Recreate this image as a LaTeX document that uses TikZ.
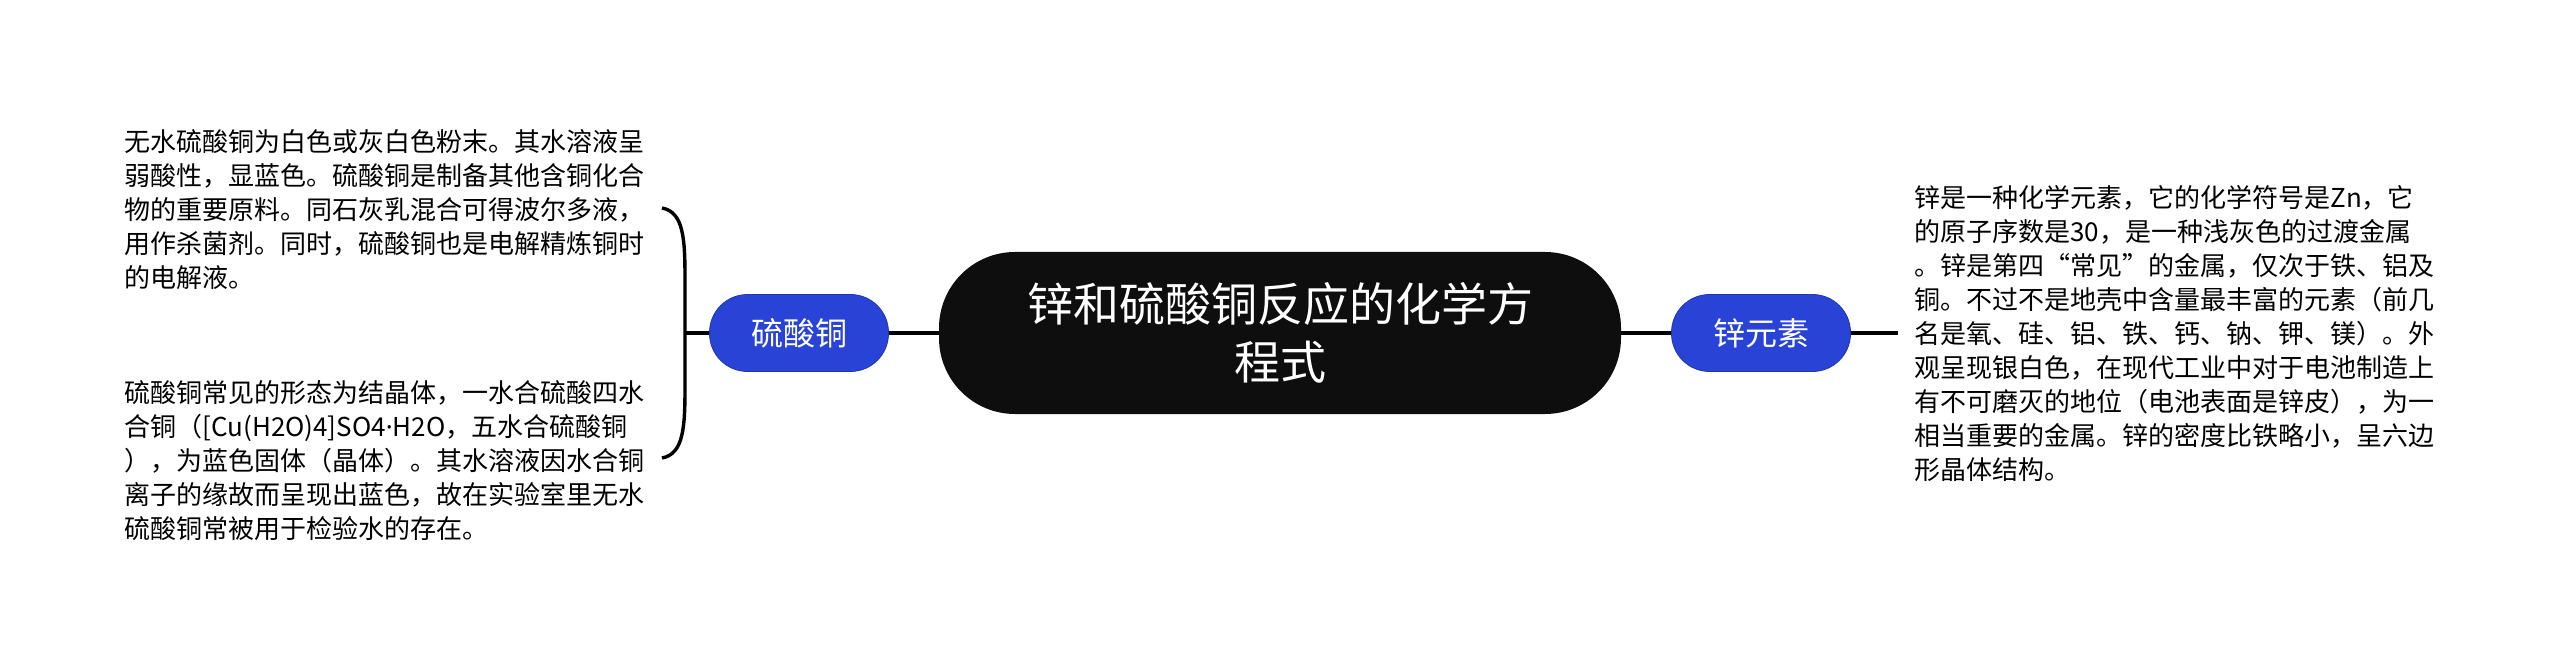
\documentclass[tikz,border=0pt]{standalone}
\usepackage{fontspec}
\setmainfont{Noto Sans CJK SC}
\newfontfamily\latinfont{Noto Sans}
\definecolor{topicblue}{RGB}{41,67,214}
\definecolor{rootblack}{RGB}{14,14,14}

\begin{document}
\begin{tikzpicture}[x=0.5pt,y=-0.5pt,
  link/.style={line width=2pt},
  rootnode/.style={fill=rootblack,text=white,rounded corners=38pt,minimum width=341pt,minimum height=81pt,align=center,font=\fontsize{23pt}{29pt}\selectfont},
  topicnode/.style={fill=topicblue,draw=topicblue!80!black,text=white,rounded corners=19pt,minimum width=89.5pt,minimum height=38.5pt,font=\fontsize{16pt}{19pt}\selectfont},
  leaf/.style={inner sep=0pt,align=left,anchor=west,font=\fontsize{13pt}{17pt}\selectfont}]
\useasboundingbox (0,0) rectangle (2560,668);
\node[rootnode] (root) at (1280,333) {锌和硫酸铜反应的化学方\\程式};
\node[topicnode] (cuso) at (799,333) {硫酸铜};
\node[topicnode] (zn) at (1761,333) {锌元素};
\node[leaf] (cusoA) at (124,210) {无水硫酸铜为白色或灰白色粉末。其水溶液呈\\弱酸性，显蓝色。硫酸铜是制备其他含铜化合\\物的重要原料。同石灰乳混合可得波尔多液，\\用作杀菌剂。同时，硫酸铜也是电解精炼铜时\\的电解液。};
\node[leaf] (cusoB) at (124,461) {硫酸铜常见的形态为结晶体，一水合硫酸四水\\合铜（[Cu(H2O)4]SO4{\latinfont ·}H2O，五水合硫酸铜\\），为蓝色固体（晶体）。其水溶液因水合铜\\离子的缘故而呈现出蓝色，故在实验室里无水\\硫酸铜常被用于检验水的存在。};
\node[leaf] (znText) at (1914,334) {锌是一种化学元素，它的化学符号是Zn，它\\的原子序数是30，是一种浅灰色的过渡金属\\。锌是第四“常见”的金属，仅次于铁、铝及\\铜。不过不是地壳中含量最丰富的元素（前几\\名是氧、硅、铝、铁、钙、钠、钾、镁）。外\\观呈现银白色，在现代工业中对于电池制造上\\有不可磨灭的地位（电池表面是锌皮），为一\\相当重要的金属。锌的密度比铁略小，呈六边\\形晶体结构。};
\coordinate (braceTop) at (662,208);
\coordinate (braceMid) at (685,333);
\coordinate (braceBot) at (662,458);
\coordinate (znEnd) at (1898,333);
\draw[link] (root) -- (cuso);
\draw[link] (root) -- (zn);
\draw[link] (zn) -- (znEnd);
\draw[link] (cuso) -- (braceMid);
\draw[line width=1.7pt] (braceTop) .. controls (684,212) and (685,240) .. (685,280) -- (685,386) .. controls (685,426) and (684,454) .. (braceBot);

\end{tikzpicture}
\end{document}
